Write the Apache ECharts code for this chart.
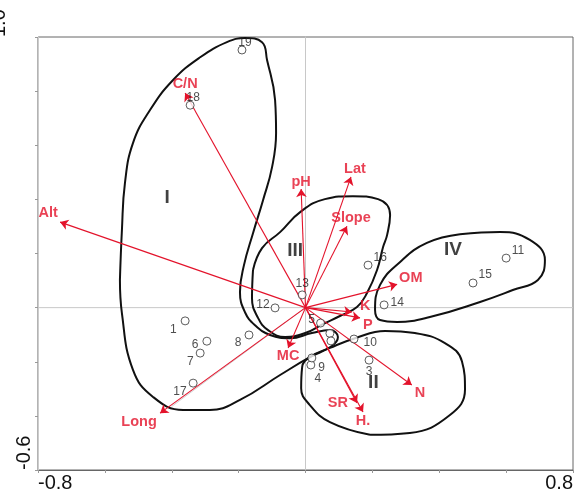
<!DOCTYPE html>
<html><head><meta charset="utf-8">
<script src="https://cdn.jsdelivr.net/npm/echarts@6/dist/echarts.min.js"></script>
<style>html,body{margin:0;padding:0;background:#fff}#c{width:579px;height:492px}</style>
</head><body><div id="c"></div>
<script>
// ---- data ----
const xTickLabels = ['-0.8', '0.8'];
const yTickLabels = ['-0.6', '1.0'];

const siteNames = ['1','2','3','4','5','6','7','8','9','10','11','12','13','14','15','16','17','18','19',''];
const siteX = [-0.360, 0.073, 0.190, 0.016, 0.045, -0.295, -0.315, -0.169, 0.019, 0.145, 0.600, -0.091, -0.010, 0.235, 0.501, 0.187, -0.336, -0.345, -0.190, 0.076];
const siteY = [-0.049, -0.095, -0.194, -0.212, -0.057, -0.124, -0.168, -0.101, -0.186, -0.116, 0.183, -0.001, 0.047, 0.010, 0.091, 0.157, -0.279, 0.748, 0.952, -0.123];

const envNames = ['C/N','Alt','pH','Lat','Slope','OM','K','P','N','H.','SR','MC','Long'];
const envX = [-0.360, -0.734, -0.013, 0.136, 0.124, 0.274, 0.139, 0.163, 0.318, 0.172, 0.154, -0.052, -0.435];
const envY = [0.793, 0.316, 0.438, 0.483, 0.301, 0.086, -0.016, -0.038, -0.286, -0.386, -0.352, -0.149, -0.390];

const greyLineX = [0, -0.400];
const greyLineY = [0, -0.365];

const groupNames = ['I','II','III','IV'];
const groupX = [-0.414, 0.203, -0.031, 0.441];
const groupY = [0.405, -0.279, 0.211, 0.213];

const hull1X = [-0.555,-0.549,-0.540,-0.516,-0.465,-0.396,-0.315,-0.235,-0.181,-0.130,-0.115,-0.091,-0.088,-0.100,-0.127,-0.157,-0.184,-0.196,-0.181,-0.151,-0.106,-0.046,0.019,0.073,0.097,0.079,0.013,-0.076,-0.196,-0.286,-0.366,-0.456,-0.516,-0.549,-0.555];
const hull1Y = [0.102,0.287,0.460,0.608,0.730,0.841,0.925,0.981,0.996,0.981,0.915,0.767,0.645,0.519,0.397,0.275,0.157,0.058,-0.017,-0.065,-0.101,-0.113,-0.094,-0.083,-0.109,-0.142,-0.183,-0.249,-0.341,-0.378,-0.378,-0.330,-0.230,-0.021,0.102];

const hull2X = [0.193,0.312,0.432,0.477,0.468,0.417,0.327,0.238,0.148,0.073,0.013,-0.010,-0.013,0.013,0.073,0.193];
const hull2Y = [-0.470,-0.463,-0.397,-0.303,-0.199,-0.131,-0.094,-0.086,-0.113,-0.149,-0.183,-0.220,-0.298,-0.360,-0.423,-0.470];

const hull3X = [-0.157,-0.130,-0.076,-0.016,0.058,0.142,0.217,0.253,0.244,0.232,0.214,0.184,0.154,0.103,0.052,-0.001,-0.061,-0.112,-0.142,-0.160,-0.157];
const hull3Y = [0.139,0.220,0.279,0.353,0.401,0.412,0.401,0.342,0.268,0.224,0.139,0.054,0.002,-0.031,-0.061,-0.094,-0.109,-0.083,-0.038,0.035,0.139];

const hull4X = [0.462,0.582,0.671,0.716,0.695,0.620,0.522,0.372,0.274,0.223,0.208,0.223,0.283,0.363,0.462];
const hull4Y = [0.271,0.279,0.250,0.176,0.102,0.065,0.021,-0.035,-0.053,-0.046,-0.009,0.084,0.169,0.239,0.271];

// ---- styles ----
const RED = '#e3132b';
const FONT = 'Liberation Sans, Arial, sans-serif';
const envLabelStyle = {
  'C/N': {position:'top', distance:2},
  'Alt': {position:'top', distance:2, offset:[-12,0]},
  'pH': {position:'top', distance:0},
  'Lat': {position:'top', distance:0, offset:[4,0]},
  'Slope': {position:'top', distance:1, offset:[4,0]},
  'OM': {position:'right', distance:2, offset:[0,-6]},
  'K': {position:'right', distance:8, offset:[0,-6]},
  'P': {position:'right', distance:3, offset:[0,7]},
  'N': {position:'right', distance:3, offset:[0,8]},
  'H.': {position:'bottom', distance:1},
  'SR': {position:'left', distance:9},
  'MC': {position:'bottom', distance:1},
  'Long': {position:'bottom', distance:1, offset:[-21,0]}
};
const siteLabelStyle = {
  '1': {position:'left', distance:4, offset:[0,9]},
  '2': {show:false},
  '3': {position:'bottom', distance:1},
  '4': {position:'bottom', distance:1, offset:[7,2]},
  '5': {position:'left', distance:1, offset:[0,-3]},
  '6': {position:'left', distance:4, offset:[0,4]},
  '7': {position:'left', distance:2, offset:[0,9]},
  '8': {position:'left', distance:3, offset:[0,8]},
  '9': {position:'right', distance:2, offset:[0,10]},
  '10': {position:'right', distance:5, offset:[0,4]},
  '11': {position:'right', distance:1, offset:[0,-7]},
  '12': {position:'left', distance:1, offset:[0,-3]},
  '13': {position:'top', distance:1},
  '14': {position:'right', distance:2, offset:[0,-2]},
  '15': {position:'right', distance:1, offset:[0,-8]},
  '16': {position:'right', distance:1, offset:[0,-7]},
  '17': {position:'left', distance:2, offset:[0,9]},
  '18': {position:'top', distance:0, offset:[3,3]},
  '19': {position:'top', distance:0, offset:[3,3]},
  '': {show:false}
};

const zip = (xs, ys) => xs.map((x, i) => [x, ys[i]]);

function hullSeries(xs, ys) {
  return {
    type:'line', data: zip(xs, ys), smooth:0.45, symbol:'none', silent:true,
    lineStyle:{color:'#111', width:2}, z:3, animation:false
  };
}

const chart = echarts.init(document.getElementById('c'), null, {renderer:'canvas'});
const near = (a, b) => Math.abs(a - b) < 1e-6;

const option = {
  animation:false,
  grid:{left:38, right:6, top:37, bottom:22, show:true, borderColor:'#666', borderWidth:1, containLabel:false, outerBoundsMode:'none'},
  xAxis:{
    type:'value', min:-0.8, max:0.8, interval:0.2,
    splitLine:{show:false},
    axisLine:{show:true, onZero:false, lineStyle:{color:'#666'}},
    axisTick:{show:true, length:3, lineStyle:{color:'#999'}},
    axisLabel:{
      fontSize:20, color:'#111', fontFamily:FONT, margin:3,
      alignMinLabel:'left', alignMaxLabel:'right',
      formatter:(v)=> near(v,-0.8) ? xTickLabels[0] : (near(v,0.8) ? xTickLabels[1] : '')
    }
  },
  yAxis:{
    type:'value', min:-0.6, max:1.0, interval:0.2,
    splitLine:{show:false},
    axisLine:{show:true, onZero:false, lineStyle:{color:'#ccc'}},
    axisTick:{show:true, length:3, lineStyle:{color:'#999'}},
    axisLabel:{
      fontSize:20, color:'#111', fontFamily:FONT, margin:4, rotate:90,
      alignMinLabel:'left', alignMaxLabel:'left',
      rich:{far:{fontSize:20, color:'#111', fontFamily:FONT, padding:[0,0,25,0]}},
      formatter:(v)=> near(v,-0.6) ? yTickLabels[0] : (near(v,1.0) ? '{far|' + yTickLabels[1] + '}' : '')
    }
  },
  series:[
    {type:'line', data:[[-0.8,0],[0.8,0]], symbol:'none', silent:true, lineStyle:{color:'#c8c8c8', width:1}, z:1},
    {type:'line', data:[[0,-0.6],[0,1.0]], symbol:'none', silent:true, lineStyle:{color:'#c8c8c8', width:1}, z:1},
    {type:'line', data:zip(greyLineX, greyLineY), symbol:'none', silent:true, lineStyle:{color:'#d0d0d0', width:1}, z:1},
    hullSeries(hull1X, hull1Y),
    hullSeries(hull2X, hull2Y),
    hullSeries(hull3X, hull3Y),
    hullSeries(hull4X, hull4Y),
    {
      type:'lines', coordinateSystem:'cartesian2d', silent:true, z:4,
      symbol:['none','arrow'], symbolSize:[0,8],
      lineStyle:{color:RED, width:1.1, opacity:1, curveness:0},
      data: envNames.map((n,i)=>({coords:[[0,0],[envX[i], envY[i]]]}))
    },
    {
      type:'scatter', symbolSize:0, silent:true, z:6,
      label:{show:true, color:RED, fontWeight:'bold', fontSize:14.5, fontFamily:FONT, formatter:'{b}'},
      data: envNames.map((n,i)=>({name:n, value:[envX[i], envY[i]], label:envLabelStyle[n]}))
    },
    {
      type:'scatter', symbol:'circle', symbolSize:8, silent:true, z:7,
      itemStyle:{color:'#fff', borderColor:'#333', borderWidth:1},
      label:{show:true, color:'#222', fontSize:12, fontFamily:FONT, formatter:'{b}'},
      data: siteNames.map((n,i)=>({name:n, value:[siteX[i], siteY[i]], label:siteLabelStyle[n]}))
    },
    {
      type:'scatter', symbolSize:0, silent:true, z:6,
      label:{show:true, position:'inside', color:'#111', fontWeight:'bold', fontSize:19, fontFamily:FONT, formatter:'{b}'},
      data: groupNames.map((n,i)=>({name:n, value:[groupX[i], groupY[i]]}))
    }
  ]
};
chart.setOption(option);
</script>
</body></html>
